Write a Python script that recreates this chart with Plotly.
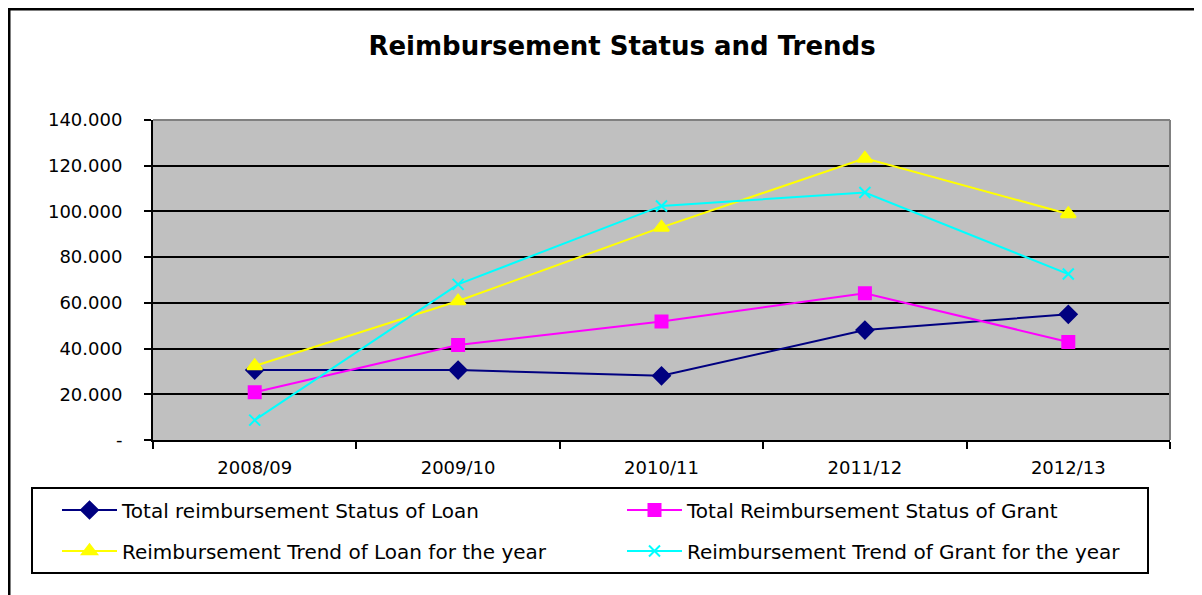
import plotly.graph_objects as go

# the page body has an 8px margin, so page pixels are shifted by OFF
OFF = 8
W, H = 1202 - OFF, 595 - OFF
L, R, T, B = 153 - OFF, 1202 - 1170, 120 - OFF, 595 - 440
PW, PH = W - L - R, H - T - B

years = ['2008/09', '2009/10', '2010/11', '2011/12', '2012/13']

loan_status = [30.6, 30.6, 28.1, 48.1, 55.0]
grant_status = [20.9, 41.6, 51.8, 64.2, 42.9]
loan_trend = [32.4, 60.8, 93.0, 123.2, 98.9]
grant_trend = [8.7, 68.1, 102.4, 108.3, 72.6]

y_ticks = [0, 20, 40, 60, 80, 100, 120, 140]
y_ticktext = ['-', '20.000', '40.000', '60.000', '80.000', '100.000', '120.000', '140.000']

FONT = 'DejaVu Sans, Liberation Sans, sans-serif'


def px_x(x):
    # page x pixel -> paper
    return (x - OFF - L) / PW


def px_y(y):
    # page y pixel -> paper
    return (T + PH - (y - OFF)) / PH


fig = go.Figure()

series = [
    ('Total reimbursement Status of Loan', loan_status, '#000080', 'diamond', 13, 'legend'),
    ('Total Reimbursement Status of Grant', grant_status, '#FF00FF', 'square', 12, 'legend'),
    ('Reimbursement Trend of Loan for the year', loan_trend, '#FFFF00', 'triangle-up', 13, 'legend2'),
    ('Reimbursement Trend of Grant for the year', grant_trend, '#00FFFF', 'x-thin', 11, 'legend2'),
]

for name, vals, color, sym, size, leg in series:
    fig.add_trace(go.Scatter(
        x=years, y=vals, name=name, mode='lines+markers',
        line=dict(color=color, width=2),
        marker=dict(symbol=sym, size=size, color=color,
                    line=dict(color=color, width=2)),
        legend=leg,
    ))

shapes = [
    # chart frame
    dict(type='rect', xref='paper', yref='paper',
         x0=px_x(OFF + 1), x1=px_x(1215), y0=px_y(610), y1=px_y(OFF + 1),
         line=dict(color='black', width=3), layer='below'),
    # plot area border top / right
    dict(type='line', xref='paper', yref='paper', x0=0, x1=1, y0=1, y1=1,
         line=dict(color='#808080', width=2)),
    dict(type='line', xref='paper', yref='paper', x0=1, x1=1, y0=0, y1=1,
         line=dict(color='#808080', width=2)),
    # legend box
    dict(type='rect', xref='paper', yref='paper',
         x0=px_x(32), x1=px_x(1148), y0=px_y(573), y1=px_y(488),
         line=dict(color='black', width=2)),
]

leg_common = dict(orientation='h', xanchor='left', yanchor='middle',
                  font=dict(family=FONT, size=20, color='black'),
                  bgcolor='rgba(0,0,0,0)', borderwidth=0,
                  itemwidth=55, entrywidth=495, entrywidthmode='pixels',
                  itemclick=False, itemdoubleclick=False)

fig.update_layout(
    width=W, height=H,
    margin=dict(l=L, r=R, t=T, b=B, pad=0, autoexpand=False),
    paper_bgcolor='white',
    plot_bgcolor='#C0C0C0',
    font=dict(family=FONT, size=18, color='black'),
    title=dict(text='<b>Reimbursement Status and Trends</b>',
               x=(622 - OFF) / W, xanchor='center', xref='container',
               y=1 - (46 - OFF) / H, yanchor='middle', yref='container',
               font=dict(family=FONT, size=26, color='black')),
    xaxis=dict(type='category', range=[-0.5, 4.5],
               showgrid=False, zeroline=False,
               showline=True, linecolor='black', linewidth=2,
               ticks='outside', tickson='boundaries', ticklen=7,
               tickcolor='black', tickwidth=2,
               ticklabelstandoff=10,
               tickfont=dict(family=FONT, size=18, color='black')),
    yaxis=dict(range=[0, 140], tickvals=y_ticks, ticktext=y_ticktext,
               showgrid=True, gridcolor='black', gridwidth=1.5,
               zeroline=False,
               showline=True, linecolor='black', linewidth=2,
               ticks='outside', ticklen=7, tickcolor='black', tickwidth=2,
               ticklabelstandoff=18,
               tickfont=dict(family=FONT, size=18, color='black')),
    legend=dict(x=px_x(57), y=px_y(510), **leg_common),
    legend2=dict(x=px_x(57), y=px_y(551), **leg_common),
    shapes=shapes,
    showlegend=True,
)

fig.write_html('out.html')
